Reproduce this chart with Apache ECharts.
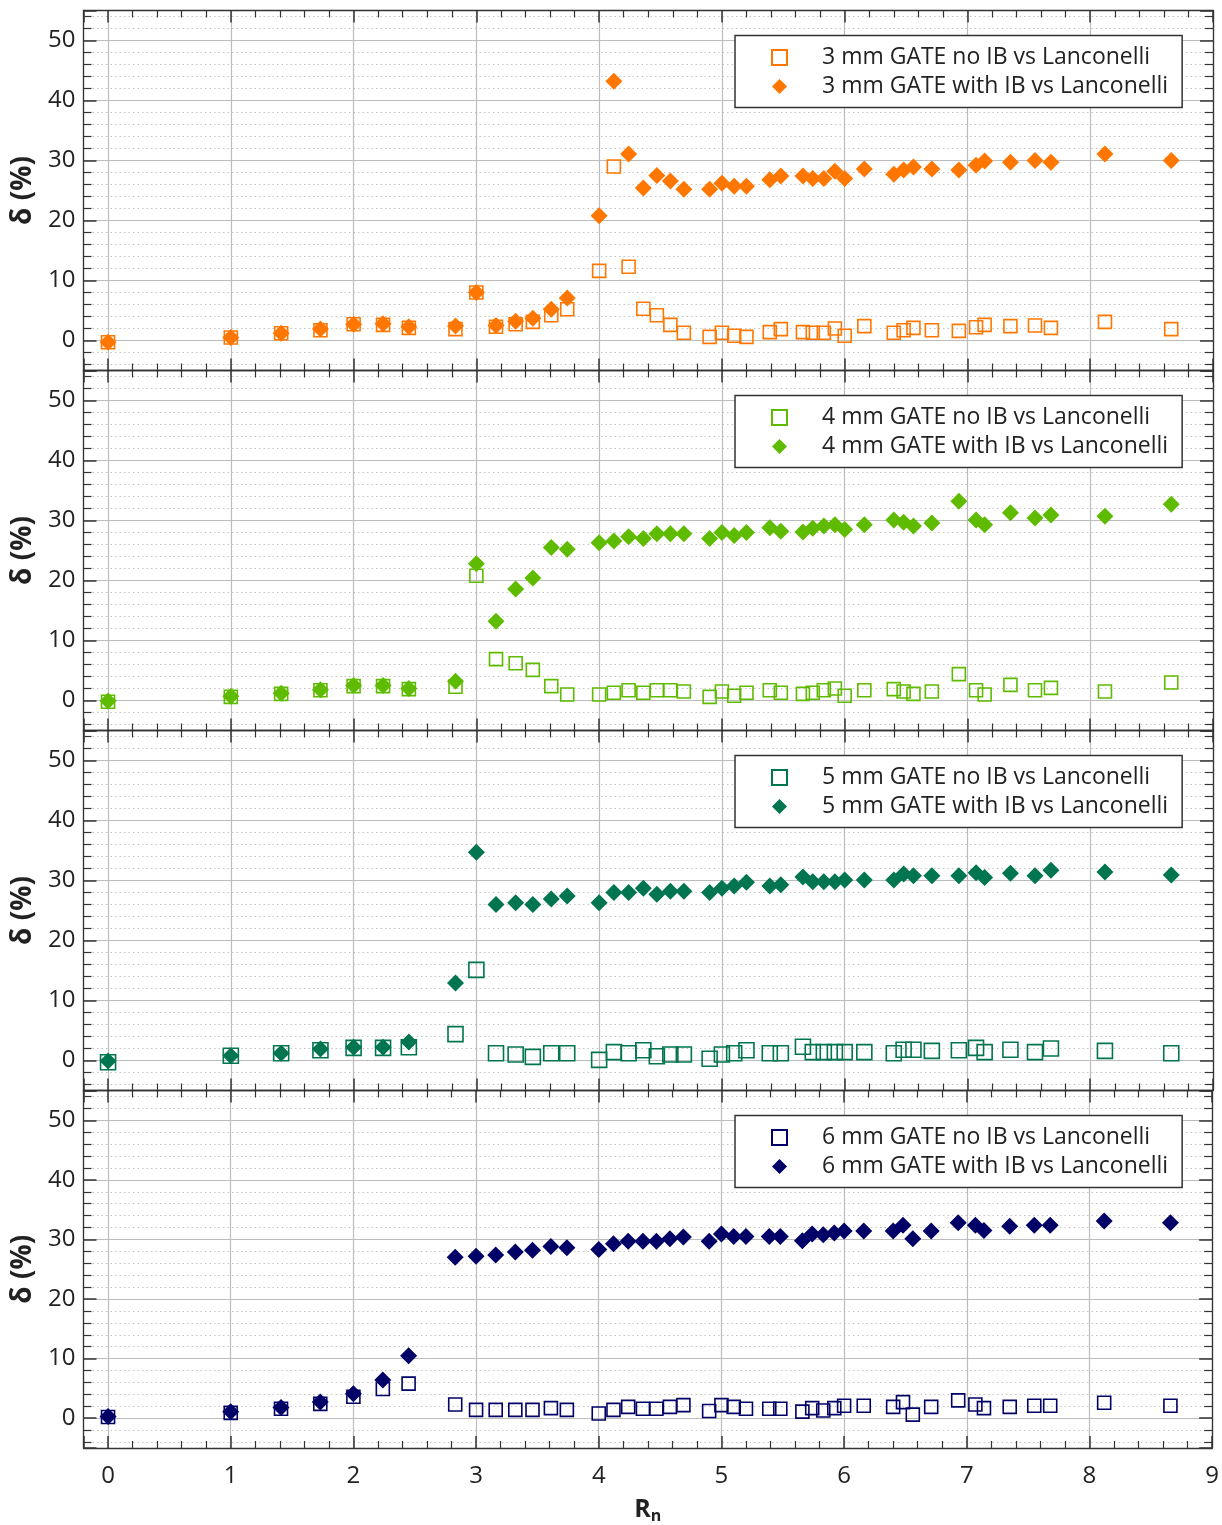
<!DOCTYPE html>
<html>
<head>
<meta charset="utf-8">
<title>δ vs Rn</title>
<script src="https://cdn.jsdelivr.net/npm/echarts@6/dist/echarts.min.js"></script>
<style>
  html, body { margin: 0; padding: 0; background: #fff; }
  #chart { width: 1222px; height: 1525px; }
</style>
</head>
<body>
<div id="chart"></div>
<script>
// R_n positions (shared by every series)
const rn = [0, 1, 1.41, 1.73, 2, 2.24, 2.45, 2.83, 3, 3.16, 3.32, 3.46, 3.61, 3.74, 4, 4.12, 4.24, 4.36, 4.47, 4.58, 4.69, 4.9, 5, 5.1, 5.2, 5.39, 5.48, 5.66, 5.74, 5.83, 5.92, 6, 6.16, 6.4, 6.48, 6.56, 6.71, 6.93, 7.07, 7.14, 7.35, 7.55, 7.68, 8.12, 8.66]

// delta (%) per series
const noIB3 = [-0.3, 0.5, 1.2, 1.7, 2.7, 2.6, 2.1, 1.9, 8.0, 2.3, 2.7, 3.1, 4.2, 5.2, 11.6, 29.0, 12.3, 5.3, 4.2, 2.6, 1.3, 0.6, 1.3, 0.8, 0.6, 1.4, 1.9, 1.4, 1.3, 1.3, 2.0, 0.8, 2.4, 1.3, 1.7, 2.1, 1.7, 1.6, 2.2, 2.6, 2.4, 2.5, 2.1, 3.1, 1.9]
const withIB3 = [-0.3, 0.5, 1.2, 1.9, 2.7, 2.8, 2.3, 2.4, 8.0, 2.5, 3.2, 3.7, 5.2, 7.1, 20.8, 43.2, 31.1, 25.4, 27.5, 26.6, 25.2, 25.2, 26.2, 25.7, 25.7, 26.8, 27.4, 27.4, 27.0, 27.0, 28.2, 27.0, 28.6, 27.7, 28.4, 28.9, 28.6, 28.4, 29.2, 29.9, 29.7, 30.0, 29.7, 31.1, 30.0]
const noIB4 = [-0.2, 0.6, 1.1, 1.7, 2.4, 2.4, 1.9, 2.3, 20.8, 6.9, 6.2, 5.1, 2.4, 1.0, 1.0, 1.3, 1.7, 1.3, 1.7, 1.7, 1.5, 0.6, 1.5, 0.8, 1.3, 1.7, 1.3, 1.1, 1.3, 1.7, 2.0, 0.8, 1.7, 1.9, 1.5, 1.1, 1.5, 4.4, 1.7, 1.0, 2.6, 1.7, 2.1, 1.5, 3.0]
const withIB4 = [-0.1, 0.7, 1.2, 1.8, 2.5, 2.5, 2.0, 3.2, 22.8, 13.2, 18.6, 20.4, 25.5, 25.2, 26.3, 26.6, 27.3, 27.0, 27.8, 27.8, 27.8, 27.0, 28.0, 27.5, 28.0, 28.8, 28.2, 28.1, 28.7, 29.1, 29.3, 28.5, 29.3, 30.1, 29.7, 29.1, 29.6, 33.2, 30.1, 29.3, 31.3, 30.4, 30.9, 30.7, 32.7]
const noIB5 = [-0.3, 0.8, 1.2, 1.7, 2.1, 2.1, 2.2, 4.4, 15.1, 1.2, 1.0, 0.6, 1.2, 1.2, 0.1, 1.4, 1.2, 1.7, 0.7, 1.0, 1.0, 0.3, 1.0, 1.2, 1.7, 1.2, 1.2, 2.3, 1.4, 1.4, 1.4, 1.4, 1.4, 1.2, 1.8, 1.8, 1.6, 1.7, 2.1, 1.4, 1.8, 1.4, 2.0, 1.6, 1.2]
const withIB5 = [-0.1, 0.8, 1.2, 1.9, 2.2, 2.2, 3.1, 12.9, 34.7, 26.0, 26.3, 26.0, 26.9, 27.4, 26.3, 28.0, 28.0, 28.7, 27.7, 28.2, 28.2, 28.0, 28.7, 29.1, 29.7, 29.1, 29.3, 30.6, 29.8, 29.8, 29.8, 30.1, 30.1, 30.1, 31.1, 30.8, 30.8, 30.8, 31.3, 30.5, 31.2, 30.8, 31.7, 31.4, 30.9]
const noIB6 = [0.2, 0.9, 1.6, 2.4, 3.6, 4.9, 5.8, 2.3, 1.4, 1.4, 1.4, 1.4, 1.7, 1.4, 0.8, 1.4, 1.9, 1.6, 1.6, 1.9, 2.2, 1.2, 2.2, 1.9, 1.6, 1.6, 1.6, 1.1, 1.7, 1.3, 1.7, 2.1, 2.1, 1.9, 2.7, 0.6, 1.9, 3.0, 2.3, 1.7, 1.9, 2.1, 2.1, 2.6, 2.1]
const withIB6 = [0.3, 1.1, 1.8, 2.7, 4.1, 6.4, 10.5, 27.0, 27.2, 27.4, 27.9, 28.2, 28.8, 28.6, 28.3, 29.3, 29.7, 29.7, 29.7, 30.1, 30.4, 29.7, 30.9, 30.5, 30.5, 30.5, 30.5, 29.8, 30.9, 30.8, 31.1, 31.4, 31.4, 31.4, 32.4, 30.1, 31.4, 32.8, 32.4, 31.5, 32.2, 32.4, 32.4, 33.1, 32.8]

const panels = [
  { mm: 3, color: '#ff7700', noIB: noIB3, withIB: withIB3, square: 13 },
  { mm: 4, color: '#5fbb00', noIB: noIB4, withIB: withIB4, square: 13 },
  { mm: 5, color: '#007550', noIB: noIB5, withIB: withIB5, square: 15 },
  { mm: 6, color: '#000066', noIB: noIB6, withIB: withIB6, square: 13 }
]

const FONT = 'Open Sans'
const AXIS_COLOR = '#333'
const TOP = 10.5
const STEP = 360
const HEIGHT = 360

const chart = echarts.init(document.getElementById('chart'), null, { renderer: 'canvas' })

function toPoints(values) {
  return rn.map((x, i) => [x, values[i]])
}

function isInt(v) {
  return Math.abs(v - Math.round(v)) < 1e-6
}

const grids = []
const xAxes = []
const yAxes = []
const legends = []
const series = []

panels.forEach((p, i) => {
  const last = i === panels.length - 1
  grids.push({ left: 83.5, right: 9, top: TOP + i * STEP, height: HEIGHT })

  // ticks sit inside the frame on all four sides
  const xBase = {
    type: 'value',
    gridIndex: i,
    min: -0.2,
    max: 9,
    splitNumber: 9,
    axisLine: { show: true, onZero: false, lineStyle: { color: AXIS_COLOR, width: 1.3 } },
    axisTick: { show: true, inside: true, length: 12, lineStyle: { color: AXIS_COLOR, width: 1.5 } },
    minorTick: { show: true, splitNumber: 5, length: 7, lineStyle: { color: AXIS_COLOR, width: 1.2 } }
  }
  xAxes.push(Object.assign({}, xBase, {
    position: 'bottom',
    axisLabel: {
      show: last,
      margin: 16,
      fontSize: 24,
      color: '#222',
      fontFamily: FONT,
      formatter: v => (isInt(v) ? String(Math.round(v)) : '')
    },
    splitLine: { show: true, lineStyle: { color: '#bcbcbc', width: 1.2 } },
    name: last ? '{r|R}{n|n}' : '',
    nameLocation: 'middle',
    nameGap: 48,
    nameTextStyle: {
      rich: {
        r: { fontSize: 25, fontWeight: 'bold', fontFamily: FONT, color: '#222', lineHeight: 28 },
        n: { fontSize: 16, fontWeight: 'bold', fontFamily: FONT, color: '#222', verticalAlign: 'bottom', lineHeight: 14 }
      }
    }
  }))
  xAxes.push(Object.assign({}, xBase, {
    position: 'top',
    axisLabel: { show: false },
    splitLine: { show: false }
  }))

  const yBase = {
    type: 'value',
    gridIndex: i,
    min: -5,
    max: 55,
    splitNumber: 6,
    axisLine: { show: true, onZero: false, lineStyle: { color: AXIS_COLOR, width: 1.3 } },
    axisTick: { show: true, inside: true, length: 13, lineStyle: { color: AXIS_COLOR, width: 1.5 } },
    minorTick: { show: true, splitNumber: 5, length: 8, lineStyle: { color: AXIS_COLOR, width: 1.2 } }
  }
  yAxes.push(Object.assign({}, yBase, {
    position: 'left',
    name: 'δ (%)',
    nameLocation: 'middle',
    nameGap: 39,
    nameTextStyle: { fontSize: 28, fontWeight: 'bold', fontFamily: FONT, color: '#222' },
    axisLabel: {
      margin: 8,
      fontSize: 24,
      color: '#222',
      fontFamily: FONT,
      formatter: v => (Math.round(v) % 10 === 0 && isInt(v) ? String(Math.round(v)) : '')
    },
    splitLine: { show: true, lineStyle: { color: '#bcbcbc', width: 1.2 } },
    minorSplitLine: { show: true, lineStyle: { color: '#c4c4c4', width: 1, type: [1.5, 3] } }
  }))
  yAxes.push(Object.assign({}, yBase, {
    position: 'right',
    axisLabel: { show: false },
    splitLine: { show: false }
  }))

  const nameNo = p.mm + ' mm GATE no IB vs Lanconelli'
  const nameWith = p.mm + ' mm GATE with IB vs Lanconelli'

  legends.push({
    data: [nameNo, nameWith],
    orient: 'vertical',
    left: 735,
    top: TOP + i * STEP + 25,
    padding: [9, 14, 8, 36],
    itemGap: 3,
    itemWidth: 15,
    itemHeight: 15,
    borderColor: AXIS_COLOR,
    borderWidth: 1.5,
    borderRadius: 0,
    backgroundColor: '#fff',
    selectedMode: false,
    textStyle: { fontSize: 23, fontFamily: FONT, color: '#222', lineHeight: 26, padding: [0, 0, 0, 30] }
  })

  series.push({
    name: nameNo,
    type: 'scatter',
    xAxisIndex: 2 * i,
    yAxisIndex: 2 * i,
    symbol: 'rect',
    symbolSize: p.square,
    itemStyle: { color: 'rgba(255,255,255,0)', borderColor: p.color, borderWidth: 1.6, opacity: 1 },
    data: toPoints(p.noIB)
  })
  series.push({
    name: nameWith,
    type: 'scatter',
    xAxisIndex: 2 * i,
    yAxisIndex: 2 * i,
    symbol: 'diamond',
    symbolSize: 17,
    itemStyle: { color: p.color, opacity: 1 },
    data: toPoints(p.withIB)
  })
})

chart.setOption({
  animation: false,
  backgroundColor: '#fff',
  grid: grids,
  xAxis: xAxes,
  yAxis: yAxes,
  legend: legends,
  series: series
})
</script>
</body>
</html>
